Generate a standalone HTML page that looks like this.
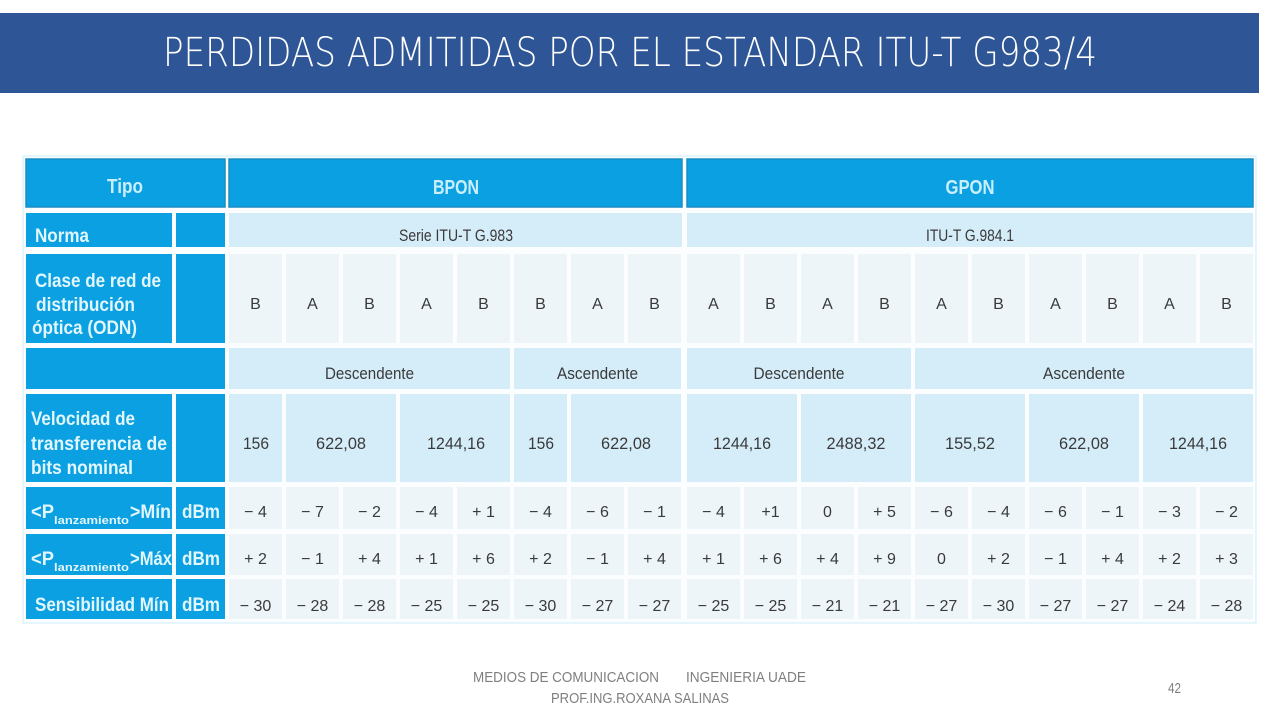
<!DOCTYPE html>
<html>
<head>
<meta charset="utf-8">
<style>
  html,body{margin:0;padding:0;background:#ffffff;}
  svg{display:block;}
  .lbl{font-family:"Liberation Sans Narrow","Liberation Sans",sans-serif;font-weight:bold;fill:#e2f6fd;}
  .hd{font-family:"Liberation Sans Narrow","Liberation Sans",sans-serif;font-weight:bold;fill:#c9effd;font-size:20px;}
  .dt{font-family:"Liberation Sans",sans-serif;fill:#3a3a3a;font-size:17px;}
  .v{font-family:"Liberation Sans",sans-serif;fill:#3a3a3a;font-size:16px;text-anchor:middle;}
  .ft{font-family:"Liberation Sans",sans-serif;fill:#7f7f7f;font-size:14.5px;}
</style>
</head>
<body>
<svg width="1279" height="720" viewBox="0 0 1279 720" xmlns="http://www.w3.org/2000/svg">
  <defs>
    <g id="cells">
      <rect x="229" y="0" width="53" height="1"/>
      <rect x="286" y="0" width="53" height="1"/>
      <rect x="343" y="0" width="53" height="1"/>
      <rect x="400" y="0" width="53" height="1"/>
      <rect x="457" y="0" width="53" height="1"/>
      <rect x="514" y="0" width="53" height="1"/>
      <rect x="571" y="0" width="53" height="1"/>
      <rect x="628" y="0" width="53" height="1"/>
      <rect x="687" y="0" width="53" height="1"/>
      <rect x="744" y="0" width="53" height="1"/>
      <rect x="801" y="0" width="53" height="1"/>
      <rect x="858" y="0" width="53" height="1"/>
      <rect x="915" y="0" width="53" height="1"/>
      <rect x="972" y="0" width="53" height="1"/>
      <rect x="1029" y="0" width="53" height="1"/>
      <rect x="1086" y="0" width="53" height="1"/>
      <rect x="1143" y="0" width="53" height="1"/>
      <rect x="1200" y="0" width="53" height="1"/>
    </g>
  </defs>

  <!-- Title bar -->
  <rect x="0" y="13" width="1259" height="80" fill="#2e5595"/>
  <text x="163" y="66" font-family="DejaVu Sans, Liberation Sans, sans-serif" font-weight="200" font-size="40" fill="#ffffff" textLength="934" lengthAdjust="spacingAndGlyphs">PERDIDAS ADMITIDAS POR EL ESTANDAR ITU-T G983/4</text>

  <!-- table backdrop -->
  <rect x="23" y="156" width="1233" height="467" fill="#fbfdfe" stroke="#cdeef9" stroke-width="1"/>

  <!-- Row 1 -->
  <g fill="#0aa0e1" stroke="#1a8dc4" stroke-width="1.5">
    <rect x="26" y="159" width="199" height="48"/>
    <rect x="229" y="159" width="453" height="48"/>
    <rect x="687" y="159" width="566" height="48"/>
  </g>
  <text class="hd" x="125" y="193" text-anchor="middle" textLength="36" lengthAdjust="spacingAndGlyphs">Tipo</text>
  <text class="hd" x="456" y="194" text-anchor="middle" textLength="46" lengthAdjust="spacingAndGlyphs">BPON</text>
  <text class="hd" x="970" y="194" text-anchor="middle" textLength="49" lengthAdjust="spacingAndGlyphs">GPON</text>

  <!-- left column dark cells -->
  <g fill="#0aa0e1">
    <rect x="26" y="213" width="146" height="34"/>
    <rect x="176" y="213" width="49" height="34"/>
    <rect x="26" y="254" width="146" height="89"/>
    <rect x="176" y="254" width="49" height="89"/>
    <rect x="26" y="348" width="199" height="41"/>
    <rect x="26" y="394" width="146" height="88"/>
    <rect x="176" y="394" width="49" height="88"/>
    <rect x="26" y="487" width="146" height="42"/>
    <rect x="176" y="487" width="49" height="42"/>
    <rect x="26" y="534" width="146" height="41"/>
    <rect x="176" y="534" width="49" height="41"/>
    <rect x="26" y="579" width="146" height="40"/>
    <rect x="176" y="579" width="49" height="40"/>
  </g>

  <!-- Row 2 Norma -->
  <g fill="#d5edf9">
    <rect x="229" y="213" width="453" height="34"/>
    <rect x="687" y="213" width="566" height="34"/>
  </g>
  <!-- Row 3 classes -->
  <use href="#cells" fill="#eef5f9" transform="translate(0,254) scale(1,89)"/>
  <!-- Row 4 Desc/Asc -->
  <g fill="#d5edf9">
    <rect x="229" y="348" width="281" height="41"/>
    <rect x="514" y="348" width="167" height="41"/>
    <rect x="687" y="348" width="224" height="41"/>
    <rect x="915" y="348" width="338" height="41"/>
  </g>
  <!-- Row 5 Velocidad -->
  <g fill="#d5edf9">
    <rect x="229" y="394" width="53" height="88"/>
    <rect x="286" y="394" width="110" height="88"/>
    <rect x="400" y="394" width="110" height="88"/>
    <rect x="514" y="394" width="53" height="88"/>
    <rect x="571" y="394" width="110" height="88"/>
    <rect x="687" y="394" width="110" height="88"/>
    <rect x="801" y="394" width="110" height="88"/>
    <rect x="915" y="394" width="110" height="88"/>
    <rect x="1029" y="394" width="110" height="88"/>
    <rect x="1143" y="394" width="110" height="88"/>
  </g>
  <!-- Rows 6-8 -->
  <use href="#cells" fill="#eef5f9" transform="translate(0,487) scale(1,42)"/>
  <use href="#cells" fill="#eef5f9" transform="translate(0,534) scale(1,41)"/>
  <use href="#cells" fill="#eef5f9" transform="translate(0,579) scale(1,40)"/>

  <!-- Left labels -->
  <text class="lbl" font-size="19" x="35" y="242" textLength="54" lengthAdjust="spacingAndGlyphs">Norma</text>
  <text class="lbl" font-size="19" x="35" y="287" textLength="126" lengthAdjust="spacingAndGlyphs">Clase de red de</text>
  <text class="lbl" font-size="19" x="36" y="311" textLength="99" lengthAdjust="spacingAndGlyphs">distribución</text>
  <text class="lbl" font-size="19" x="32" y="334" textLength="105" lengthAdjust="spacingAndGlyphs">óptica (ODN)</text>
  <text class="lbl" font-size="19" x="31" y="425" textLength="104" lengthAdjust="spacingAndGlyphs">Velocidad de</text>
  <text class="lbl" font-size="19" x="31" y="450" textLength="136" lengthAdjust="spacingAndGlyphs">transferencia de</text>
  <text class="lbl" font-size="19" x="31" y="474" textLength="102" lengthAdjust="spacingAndGlyphs">bits nominal</text>

  <text class="lbl" font-size="19" x="31" y="518" textLength="23" lengthAdjust="spacingAndGlyphs">&lt;P</text>
  <text class="lbl" font-size="11" x="54" y="524" textLength="75" lengthAdjust="spacingAndGlyphs">lanzamiento</text>
  <text class="lbl" font-size="19" x="130" y="518" textLength="41" lengthAdjust="spacingAndGlyphs">&gt;Mín</text>

  <text class="lbl" font-size="19" x="31" y="565" textLength="23" lengthAdjust="spacingAndGlyphs">&lt;P</text>
  <text class="lbl" font-size="11" x="54" y="571" textLength="75" lengthAdjust="spacingAndGlyphs">lanzamiento</text>
  <text class="lbl" font-size="19" x="130" y="565" textLength="42" lengthAdjust="spacingAndGlyphs">&gt;Máx</text>

  <text class="lbl" font-size="19" x="35" y="611" textLength="134" lengthAdjust="spacingAndGlyphs">Sensibilidad Mín</text>

  <text class="lbl" font-size="19" x="201" y="518" text-anchor="middle" textLength="38" lengthAdjust="spacingAndGlyphs">dBm</text>
  <text class="lbl" font-size="19" x="201" y="565" text-anchor="middle" textLength="38" lengthAdjust="spacingAndGlyphs">dBm</text>
  <text class="lbl" font-size="19" x="201" y="611" text-anchor="middle" textLength="38" lengthAdjust="spacingAndGlyphs">dBm</text>

  <!-- Row 2 text -->
  <text class="dt" x="456" y="241" text-anchor="middle" textLength="114" lengthAdjust="spacingAndGlyphs">Serie ITU-T G.983</text>
  <text class="dt" x="970" y="241" text-anchor="middle" textLength="88" lengthAdjust="spacingAndGlyphs">ITU-T G.984.1</text>

  <!-- Row 3 class letters -->
  <g class="v">
    <text x="255.5" y="309">B</text>
    <text x="312.5" y="309">A</text>
    <text x="369.5" y="309">B</text>
    <text x="426.5" y="309">A</text>
    <text x="483.5" y="309">B</text>
    <text x="540.5" y="309">B</text>
    <text x="597.5" y="309">A</text>
    <text x="654.5" y="309">B</text>
    <text x="713.5" y="309">A</text>
    <text x="770.5" y="309">B</text>
    <text x="827.5" y="309">A</text>
    <text x="884.5" y="309">B</text>
    <text x="941.5" y="309">A</text>
    <text x="998.5" y="309">B</text>
    <text x="1055.5" y="309">A</text>
    <text x="1112.5" y="309">B</text>
    <text x="1169.5" y="309">A</text>
    <text x="1226.5" y="309">B</text>
  </g>

  <!-- Row 4 -->
  <text class="dt" x="369.5" y="379" text-anchor="middle" textLength="89" lengthAdjust="spacingAndGlyphs">Descendente</text>
  <text class="dt" x="597.5" y="379" text-anchor="middle" textLength="81" lengthAdjust="spacingAndGlyphs">Ascendente</text>
  <text class="dt" x="799" y="379" text-anchor="middle" textLength="91" lengthAdjust="spacingAndGlyphs">Descendente</text>
  <text class="dt" x="1084" y="379" text-anchor="middle" textLength="82" lengthAdjust="spacingAndGlyphs">Ascendente</text>

  <!-- Row 5 velocidad -->
  <text class="dt" x="256" y="449" text-anchor="middle" textLength="26" lengthAdjust="spacingAndGlyphs">156</text>
  <text class="dt" x="341" y="449" text-anchor="middle" textLength="50" lengthAdjust="spacingAndGlyphs">622,08</text>
  <text class="dt" x="456" y="449" text-anchor="middle" textLength="58" lengthAdjust="spacingAndGlyphs">1244,16</text>
  <text class="dt" x="541" y="449" text-anchor="middle" textLength="26" lengthAdjust="spacingAndGlyphs">156</text>
  <text class="dt" x="626" y="449" text-anchor="middle" textLength="50" lengthAdjust="spacingAndGlyphs">622,08</text>
  <text class="dt" x="742" y="449" text-anchor="middle" textLength="58" lengthAdjust="spacingAndGlyphs">1244,16</text>
  <text class="dt" x="856" y="449" text-anchor="middle" textLength="59" lengthAdjust="spacingAndGlyphs">2488,32</text>
  <text class="dt" x="970" y="449" text-anchor="middle" textLength="50" lengthAdjust="spacingAndGlyphs">155,52</text>
  <text class="dt" x="1084" y="449" text-anchor="middle" textLength="50" lengthAdjust="spacingAndGlyphs">622,08</text>
  <text class="dt" x="1198" y="449" text-anchor="middle" textLength="58" lengthAdjust="spacingAndGlyphs">1244,16</text>

  <!-- Row 6 Pmin -->
  <g class="v" font-size="17">
    <text x="255.5" y="517">− 4</text>
    <text x="312.5" y="517">− 7</text>
    <text x="369.5" y="517">− 2</text>
    <text x="426.5" y="517">− 4</text>
    <text x="483.5" y="517">+ 1</text>
    <text x="540.5" y="517">− 4</text>
    <text x="597.5" y="517">− 6</text>
    <text x="654.5" y="517">− 1</text>
    <text x="713.5" y="517">− 4</text>
    <text x="770.5" y="517">+1</text>
    <text x="827.5" y="517">0</text>
    <text x="884.5" y="517">+ 5</text>
    <text x="941.5" y="517">− 6</text>
    <text x="998.5" y="517">− 4</text>
    <text x="1055.5" y="517">− 6</text>
    <text x="1112.5" y="517">− 1</text>
    <text x="1169.5" y="517">− 3</text>
    <text x="1226.5" y="517">− 2</text>
  </g>
  <!-- Row 7 Pmax -->
  <g class="v" font-size="17">
    <text x="255.5" y="564">+ 2</text>
    <text x="312.5" y="564">− 1</text>
    <text x="369.5" y="564">+ 4</text>
    <text x="426.5" y="564">+ 1</text>
    <text x="483.5" y="564">+ 6</text>
    <text x="540.5" y="564">+ 2</text>
    <text x="597.5" y="564">− 1</text>
    <text x="654.5" y="564">+ 4</text>
    <text x="713.5" y="564">+ 1</text>
    <text x="770.5" y="564">+ 6</text>
    <text x="827.5" y="564">+ 4</text>
    <text x="884.5" y="564">+ 9</text>
    <text x="941.5" y="564">0</text>
    <text x="998.5" y="564">+ 2</text>
    <text x="1055.5" y="564">− 1</text>
    <text x="1112.5" y="564">+ 4</text>
    <text x="1169.5" y="564">+ 2</text>
    <text x="1226.5" y="564">+ 3</text>
  </g>
  <!-- Row 8 Sens -->
  <g class="v" font-size="17">
    <text x="255.5" y="611">− 30</text>
    <text x="312.5" y="611">− 28</text>
    <text x="369.5" y="611">− 28</text>
    <text x="426.5" y="611">− 25</text>
    <text x="483.5" y="611">− 25</text>
    <text x="540.5" y="611">− 30</text>
    <text x="597.5" y="611">− 27</text>
    <text x="654.5" y="611">− 27</text>
    <text x="713.5" y="611">− 25</text>
    <text x="770.5" y="611">− 25</text>
    <text x="827.5" y="611">− 21</text>
    <text x="884.5" y="611">− 21</text>
    <text x="941.5" y="611">− 27</text>
    <text x="998.5" y="611">− 30</text>
    <text x="1055.5" y="611">− 27</text>
    <text x="1112.5" y="611">− 27</text>
    <text x="1169.5" y="611">− 24</text>
    <text x="1226.5" y="611">− 28</text>
  </g>

  <!-- Footer -->
  <text class="ft" x="473" y="682" textLength="186" lengthAdjust="spacingAndGlyphs">MEDIOS DE COMUNICACION</text>
  <text class="ft" x="686" y="682" textLength="120" lengthAdjust="spacingAndGlyphs">INGENIERIA  UADE</text>
  <text class="ft" x="551" y="703" textLength="178" lengthAdjust="spacingAndGlyphs">PROF.ING.ROXANA SALINAS</text>
  <text class="ft" x="1168" y="693" textLength="13" lengthAdjust="spacingAndGlyphs">42</text>
</svg>
</body>
</html>
